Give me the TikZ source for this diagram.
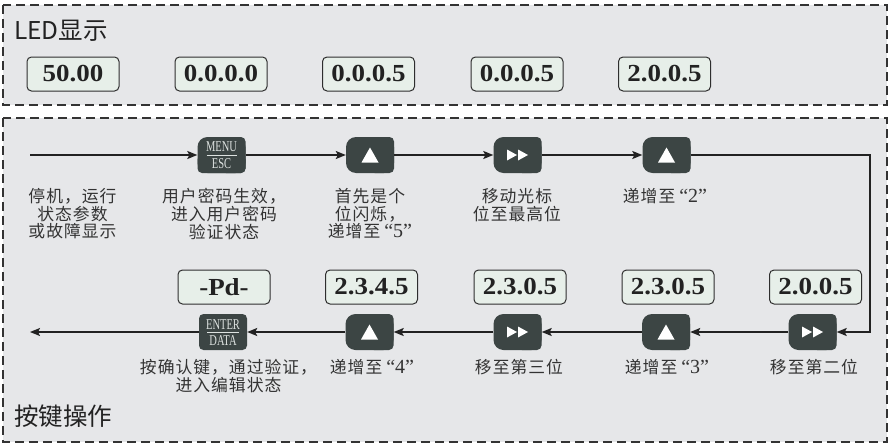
\documentclass[tikz,border=0pt]{standalone}
\usepackage{fontspec}
\setmainfont{Liberation Serif}
\newfontfamily\cjkfont{Noto Sans CJK SC}
\newfontfamily\cjkspaced[LetterSpace=6]{Noto Sans CJK SC}
\newfontfamily\ledfont[FakeStretch=1.1]{Liberation Serif Bold}
\newfontfamily\keyfont[FakeStretch=0.7]{Liberation Serif}
\usetikzlibrary{arrows.meta}
\definecolor{panelbg}{HTML}{E6E7E9}
\definecolor{panelln}{HTML}{333333}
\definecolor{ledbg}{HTML}{E7EFE9}
\definecolor{ledln}{HTML}{2E2E2E}
\definecolor{btnc}{HTML}{3C4544}
\definecolor{txtc}{HTML}{333333}
\definecolor{keytxt}{HTML}{DDE2E0}
\definecolor{flowc}{HTML}{222222}
\newcommand\qt[1]{\hspace{4pt}{\rmfamily\fontsize{20}{17.8}\selectfont “#1”}}
\tikzset{
  panel/.style={draw=panelln, fill=panelbg, line width=2.2pt, dash pattern=on 9pt off 5pt},
  led/.style={draw=ledln, fill=ledbg, line width=1pt, rounded corners=4.5pt,
    minimum width=92pt, minimum height=34pt, inner sep=0pt,
    font=\ledfont\fontsize{24.5}{24.5}\selectfont, text=flowc},
  keynode/.style={minimum width=48pt, minimum height=36pt, inner sep=0pt},
  keylbl/.style={font=\keyfont\fontsize{15}{15}\selectfont, text=keytxt, inner sep=0pt},
  lbl/.style={font=\cjkspaced\fontsize{16.8}{17.8}\selectfont, text=txtc, align=center, inner sep=0pt, anchor=north},
  titletext/.style={font=\cjkfont\fontsize{24.5}{24.5}\selectfont, text=flowc, inner sep=0pt, anchor=west},
  flow/.style={line width=1.4pt, draw=flowc, -{Stealth[length=10pt,width=8pt,inset=2pt]}}
}
% key shapes (union of rounded rectangles)
\newcommand\keyshapeL[1]{%
  \fill[btnc, rounded corners=10pt] ([shift={(-24,-18)}]#1.center) rectangle ([shift={(24,18)}]#1.center);
  \fill[btnc, rounded corners=4.5pt] ([shift={(0,-18)}]#1.center) rectangle ([shift={(24,18)}]#1.center);}
\newcommand\keyshapeM[1]{%
  \fill[btnc, rounded corners=10pt] ([shift={(-24,-18)}]#1.center) rectangle ([shift={(24,18)}]#1.center);
  \fill[btnc, rounded corners=4.5pt] ([shift={(-24,0)}]#1.center) rectangle ([shift={(24,18)}]#1.center);
  \fill[btnc, rounded corners=4.5pt] ([shift={(0,-18)}]#1.center) rectangle ([shift={(24,18)}]#1.center);}
\newcommand\keyshapeE[1]{%
  \fill[btnc, rounded corners=4.5pt] ([shift={(-24,-18)}]#1.center) rectangle ([shift={(24,18)}]#1.center);}
\newcommand\symup[1]{%
  \fill[white] ([shift={(-8.5,7.5)}]#1.center) -- ([shift={(8.5,7.5)}]#1.center) -- ([shift={(0,-7.5)}]#1.center) -- cycle;}
\newcommand\symff[1]{%
  \fill[white] ([shift={(-10.5,-5.5)}]#1.center) -- ([shift={(-0.5,0)}]#1.center) -- ([shift={(-10.5,5.5)}]#1.center) -- cycle
               ([shift={(0.5,-5.5)}]#1.center) -- ([shift={(10.5,0)}]#1.center) -- ([shift={(0.5,5.5)}]#1.center) -- cycle;}
\begin{document}
\begin{tikzpicture}[x=1pt, y=-1pt]
\useasboundingbox (0,0) rectangle (890,444);
% panels
\draw[panel] (3,5) rectangle (887,105);
\draw[panel] (3,118) rectangle (887,442);
\node[titletext] (t1) at (14,31) {LED显示};
\node[titletext] (t2) at (14,416) {按键操作};
% LED displays top
\node[led] (d1) at (73,74) {50.00};
\node[led] (d2) at (221,74) {0.0.0.0};
\node[led] (d3) at (368.5,74) {0.0.0.5};
\node[led] (d4) at (517,74) {0.0.0.5};
\node[led] (d5) at (664.5,74) {2.0.0.5};
% LED displays bottom
\node[led] (e1) at (224,287) {-Pd-};
\node[led] (e2) at (371.5,287) {2.3.4.5};
\node[led] (e3) at (520,287) {2.3.0.5};
\node[led] (e4) at (668,287) {2.3.0.5};
\node[led] (e5) at (815.5,287) {2.0.0.5};
% keys
\node[keynode] (bmenu) at (221.5,155) {};
\node[keynode] (bup1) at (370,155) {};
\node[keynode] (bff1) at (517.5,155) {};
\node[keynode] (bup2) at (666.5,155) {};
\node[keynode] (bff2) at (812.5,332) {};
\node[keynode] (bup3) at (666,332) {};
\node[keynode] (bff3) at (517.5,332) {};
\node[keynode] (bup4) at (369.5,332) {};
\node[keynode] (benter) at (223,332) {};
\keyshapeM{bmenu}
\keyshapeL{bup1}\keyshapeL{bff1}\keyshapeL{bup2}
\keyshapeL{bff2}\keyshapeL{bup3}\keyshapeL{bff3}\keyshapeL{bup4}
\keyshapeE{benter}
\symup{bup1}\symup{bup2}\symup{bup3}\symup{bup4}
\symff{bff1}\symff{bff2}\symff{bff3}
\node[keylbl] (km1) at ([shift={(0,-8)}]bmenu.center) {MENU};
\node[keylbl] (km2) at ([shift={(0,8.5)}]bmenu.center) {ESC};
\draw[keytxt, line width=0.8pt] ([shift={(-15,0)}]bmenu.center) -- ([shift={(15,0)}]bmenu.center);
\node[keylbl] (ke1) at ([shift={(0,-7.5)}]benter.center) {ENTER};
\node[keylbl] (ke2) at ([shift={(0,8.5)}]benter.center) {DATA};
\draw[keytxt, line width=0.8pt] ([shift={(-16,0)}]benter.center) -- ([shift={(16,0)}]benter.center);
% connectors
\coordinate (lstart) at (30,155);
\coordinate (rturn) at (870,155);
\coordinate (lend) at (30,332);
\draw[flow] (lstart) -- (bmenu.west);
\draw[flow] (bmenu) -- (bup1);
\draw[flow] (bup1) -- (bff1);
\draw[flow] (bff1) -- (bup2);
\draw[flow] (bup2.east) -- (rturn) |- (bff2.east);
\draw[flow] (bff2) -- (bup3);
\draw[flow] (bup3) -- (bff3);
\draw[flow] (bff3) -- (bup4);
\draw[flow] (bup4) -- (benter);
\draw[flow] (benter) -- (lend);
% labels
\node[lbl] (l1) at (72.5,188) {停机，运行\\状态参数\\或故障显示};
\node[lbl] (l2) at (224,188) {用户密码生效，\\进入用户密码\\验证状态};
\node[lbl] (l3) at (370,188) {首先是个\\位闪烁，\\递增至\qt{5}};
\node[lbl] (l4) at (517,188) {移动光标\\位至最高位};
\node[lbl] (l5) at (665,188) {递增至\qt{2}};
\node[lbl] (m1) at (228.5,359) {按确认键，通过验证，\\进入编辑状态};
\node[lbl] (m2) at (372,359) {递增至\qt{4}};
\node[lbl] (m3) at (519,359) {移至第三位};
\node[lbl] (m4) at (667,359) {递增至\qt{3}};
\node[lbl] (m5) at (814,359) {移至第二位};
\end{tikzpicture}
\end{document}
